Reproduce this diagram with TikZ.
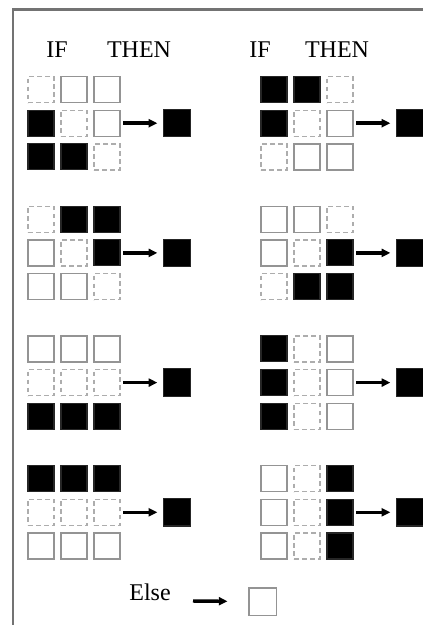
\documentclass[tikz,border=0pt]{standalone}
\usepackage{fontspec}
\setmainfont{Liberation Serif}
\usetikzlibrary{arrows.meta}
\begin{document}
\begin{tikzpicture}[x=0.75pt,y=-0.75pt,
  cell/.style={minimum size=19.5pt, inner sep=0pt, outer sep=0pt},
  b/.style={cell, fill=black, draw=black!85, line width=0.8pt},
  e/.style={cell, draw=black!42, line width=1pt},
  d/.style={cell, draw=black!32, dash pattern=on 3.5pt off 2.5pt, line width=1pt},
  outc/.style={b, minimum size=20.5pt},
  arr/.style={-{Triangle[length=6.5pt,width=6pt]}, line width=2.6pt, shorten <=2.5pt, shorten >=4.5pt},
  lbl/.style={font=\fontsize{18}{20}\selectfont, inner sep=0pt, anchor=base}
]
\useasboundingbox (0,0) rectangle (423,625);
\draw[black!55, line width=2pt] (13,640) -- (13,9.5) -- (440,9.5);

\node[lbl] (ifL) at (57,57) {IF};
\node[lbl] (thenL) at (139,57) {THEN};
\node[lbl] (ifR) at (260,57) {IF};
\node[lbl] (thenR) at (337,57) {THEN};

\foreach \nm/\gx/\gy/\pa/\pb/\pc/\pd/\pe/\pf/\pg/\ph/\pi in {
  L1/41/89.5/d/e/e/b/d/e/b/b/d,
  R1/274/89.5/b/b/d/b/d/e/d/e/e,
  L2/41/219.2/d/b/b/e/d/b/e/e/d,
  R2/274/219.2/e/e/d/e/d/b/d/b/b,
  L3/41/348.9/e/e/e/d/d/d/b/b/b,
  R3/274/348.9/b/d/e/b/d/e/b/d/e,
  L4/41/478.6/b/b/b/d/d/d/e/e/e,
  R4/274/478.6/e/d/b/e/d/b/e/d/b}{
  \node[\pa] (\nm-11) at (\gx,\gy) {};
  \node[\pb] (\nm-12) at (\gx+33,\gy) {};
  \node[\pc] (\nm-13) at (\gx+66,\gy) {};
  \node[\pd] (\nm-21) at (\gx,\gy+33.7) {};
  \node[\pe] (\nm-22) at (\gx+33,\gy+33.7) {};
  \node[\pf] (\nm-23) at (\gx+66,\gy+33.7) {};
  \node[\pg] (\nm-31) at (\gx,\gy+67.4) {};
  \node[\ph] (\nm-32) at (\gx+33,\gy+67.4) {};
  \node[\pi] (\nm-33) at (\gx+66,\gy+67.4) {};
  \node[outc] (\nm-o) at (\gx+136,\gy+33.7) {};
  \draw[arr] (\nm-23.east) -- (\nm-o.west);
}

\node[lbl] (else) at (150,600) {Else};
\coordinate (ea) at (193,601);
\node[e, minimum size=20.5pt] (ec) at (262.5,601.5) {};
\draw[arr, shorten <=0pt, shorten >=16pt] (ea) -- (ec.west);
\end{tikzpicture}
\end{document}
